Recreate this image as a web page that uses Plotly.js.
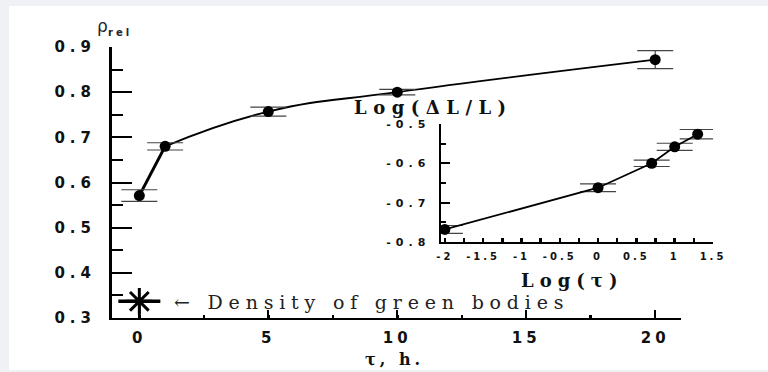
<!DOCTYPE html>
<html><head><meta charset="utf-8">
<script src="https://cdn.plot.ly/plotly-3.0.1.min.js"></script>
<style>
html,body{margin:0;padding:0;background:#eff1f4;width:768px;height:372px;overflow:hidden}
#chart{position:absolute;left:9px;top:6px;width:759px;height:364px;background:#fff}
</style></head><body><div id="chart"></div>
<script>
// ---- data ----
const tau = [0, 1, 5, 10, 20];
const rhoRel = [0.571, 0.680, 0.757, 0.800, 0.872];
const rhoErr = [0.013, 0.008, 0.010, 0.006, 0.020];
const greenTau = [0];
const greenRho = [0.337];
const logTau = [-2, 0, 0.7, 1.0, 1.3];
const logDL = [-0.768, -0.662, -0.600, -0.558, -0.526];
const logDLErr = [0.010, 0.010, 0.008, 0.009, 0.012];

const mainXTicks = [0, 5, 10, 15, 20];
const mainXLabels = ['0', '5', '10', '15', '20'];
const mainYTicks = [0.3, 0.4, 0.5, 0.6, 0.7, 0.8, 0.9];
const mainYLabels = ['0.3', '0.4', '0.5', '0.6', '0.7', '0.8', '0.9'];
const insetXTicks = [-2, -1.5, -1, -0.5, 0, 0.5, 1, 1.5];
const insetXLabels = ['-2', '-1.5', '-1', '-0.5', '0', '0.5', '1', '1.5'];
const insetYTicks = [-0.8, -0.7, -0.6, -0.5];
const insetYLabels = ['-0.8', '-0.7', '-0.6', '-0.5'];

// ---- layout helpers ----
const W = 759, H = 364, M = {l: 103, r: 55, t: 41, b: 52};
const pw = W - M.l - M.r, ph = H - M.t - M.b;
const px = x => (x - M.l) / pw;
const py = y => (H - M.b - y) / ph;
const sp = (t, ls) => '<span style="letter-spacing:' + ls + 'px">' + t + '</span>';

const tickFont = {family: 'DejaVu Sans', size: 15, color: '#111', weight: 700};
const insetTickFont = {family: 'DejaVu Sans', size: 11, color: '#111', weight: 700};
const errStyle = {type: 'data', visible: true, width: 18, thickness: 1.2, color: '#444'};

const traces = [
  {x: tau.slice(0, 2), y: rhoRel.slice(0, 2), mode: 'lines', line: {color: '#000', width: 3}, hoverinfo: 'skip'},
  {x: tau.slice(1), y: rhoRel.slice(1), mode: 'lines', line: {color: '#000', width: 1.8, shape: 'spline', smoothing: 1.3}, hoverinfo: 'skip'},
  {x: tau, y: rhoRel, mode: 'markers', marker: {symbol: 'circle', size: 11, color: '#000'},
   error_y: Object.assign({array: rhoErr}, errStyle)},
  {x: greenTau, y: greenRho, mode: 'markers',
   marker: {symbol: 'line-ew-open', size: 30, color: '#000', line: {color: '#000', width: 3.5}},
   error_y: {type: 'data', symmetric: false, array: [0.008], arrayminus: [0.035], width: 0, thickness: 2.5, color: '#000'}},
  {x: greenTau, y: greenRho, mode: 'markers',
   marker: {symbol: 'asterisk-open', size: 22, color: '#000', line: {color: '#000', width: 3}}},
  {x: logTau, y: logDL, xaxis: 'x2', yaxis: 'y2', mode: 'lines+markers',
   line: {color: '#000', width: 1.8}, marker: {symbol: 'circle', size: 11, color: '#000'},
   error_y: Object.assign({array: logDLErr}, errStyle)}
];

const layout = {
  width: W, height: H, margin: M, showlegend: false,
  paper_bgcolor: '#fff', plot_bgcolor: 'rgba(0,0,0,0)',
  xaxis: {domain: [0, px(672)], range: [-1.06, 21], showline: true, linewidth: 2, linecolor: '#000',
    showgrid: false, zeroline: false, ticks: 'inside', ticklen: 8, tickwidth: 2, tickcolor: '#000',
    tickmode: 'array', tickvals: mainXTicks, ticktext: mainXLabels.map(t => sp(t, 4)),
    minor: {dtick: 2.5, tick0: 0, ticks: 'inside', ticklen: 3, tickwidth: 2.5, tickcolor: '#000'},
    tickfont: tickFont, ticklabelstandoff: 5, tickangle: 0},
  yaxis: {domain: [0, 1], range: [0.3, 0.9], showline: true, linewidth: 3, linecolor: '#000',
    showgrid: false, zeroline: false, ticks: 'inside', ticklen: 20, tickwidth: 2, tickcolor: '#000',
    tickmode: 'array', tickvals: mainYTicks, ticktext: mainYLabels.map(t => sp(t, 5)),
    minor: {dtick: 0.05, tick0: 0.3, ticks: 'inside', ticklen: 11, tickwidth: 2, tickcolor: '#000'},
    tickfont: tickFont, ticklabelstandoff: 10},
  xaxis2: {domain: [px(432), 1], anchor: 'y2', range: [-2.05, 1.5], showline: true, linewidth: 2, linecolor: '#000',
    showgrid: false, zeroline: false, ticks: 'inside', ticklen: 4, tickwidth: 2.5, tickcolor: '#000',
    tickmode: 'array', tickvals: insetXTicks, ticktext: insetXLabels.map(t => sp(t, 3)),
    minor: {dtick: 0.25, tick0: 0, ticks: 'inside', ticklen: 4, tickwidth: 2.5, tickcolor: '#000'},
    tickfont: {family: 'DejaVu Sans', size: 10, color: '#111', weight: 700}, ticklabelstandoff: 4, tickangle: 0},
  yaxis2: {domain: [py(236), py(118)], anchor: 'x2', range: [-0.8, -0.5], showline: true, linewidth: 2.5, linecolor: '#000',
    showgrid: false, zeroline: false, ticks: 'inside', ticklen: 9, tickwidth: 2, tickcolor: '#000',
    tickmode: 'array', tickvals: insetYTicks, ticktext: insetYLabels.map(t => sp(t, 5)),
    minor: {dtick: 0.05, tick0: -0.8, ticks: 'inside', ticklen: 5, tickwidth: 2, tickcolor: '#000'},
    tickfont: insetTickFont, ticklabelstandoff: 6},
  annotations: [
    {xref: 'paper', yref: 'paper', x: px(86), y: py(20), xanchor: 'left', yanchor: 'middle', showarrow: false,
     text: 'ρ', font: {family: 'DejaVu Sans', size: 17, color: '#223'}},
    {xref: 'paper', yref: 'paper', x: px(97), y: py(26), xanchor: 'left', yanchor: 'middle', showarrow: false,
     text: sp('rel', 3), font: {family: 'DejaVu Sans', size: 10, color: '#223', weight: 700}},
    {xref: 'paper', yref: 'paper', x: px(424), y: py(102), xanchor: 'center', yanchor: 'middle', showarrow: false,
     text: sp('Log(ΔL/L)', 6.5), font: {family: 'DejaVu Serif', size: 18, color: '#111', weight: 700}},
    {xref: 'paper', yref: 'paper', x: px(563), y: py(274), xanchor: 'center', yanchor: 'middle', showarrow: false,
     text: sp('Log(τ)', 6), font: {family: 'DejaVu Serif', size: 18, color: '#111', weight: 700}},
    {xref: 'paper', yref: 'paper', x: px(385), y: py(353), xanchor: 'center', yanchor: 'middle', showarrow: false,
     text: sp('τ, h.', 4), font: {family: 'DejaVu Serif', size: 16, color: '#111', weight: 700}},
    {xref: 'paper', yref: 'paper', x: px(163), y: py(296), xanchor: 'left', yanchor: 'middle', showarrow: false,
     text: sp('← Density of green bodies', 5.8), font: {family: 'DejaVu Serif', size: 19, color: '#222'}}
  ]
};

Plotly.newPlot('chart', traces, layout, {staticPlot: true, displayModeBar: false});
</script></body></html>
